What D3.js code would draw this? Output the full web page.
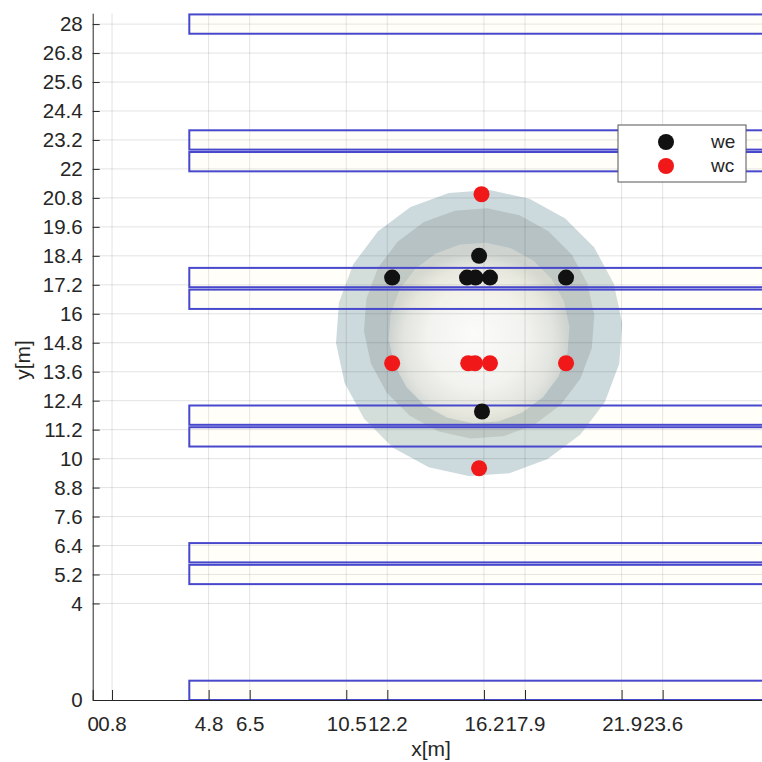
<!DOCTYPE html>
<html><head><meta charset="utf-8">
<script src="https://cdn.jsdelivr.net/npm/d3@7"></script>
<style>
html,body{margin:0;padding:0;background:#fff;}
svg{display:block;font-family:"Liberation Sans",Arial,Helvetica,sans-serif;}
</style>
</head><body>
<svg id="chart" width="762" height="762"></svg>
<script>
// ---- data ----
const xTicks = [0, 0.8, 4.8, 6.5, 10.5, 12.2, 16.2, 17.9, 21.9, 23.6];
const yTicks = [0, 4, 5.2, 6.4, 7.6, 8.8, 10, 11.2, 12.4, 13.6, 14.8, 16, 17.2, 18.4, 19.6, 20.8, 22, 23.2, 24.4, 25.6, 26.8, 28];

const weX = [12.4, 15.5, 15.85, 16.45, 19.6, 16.0, 16.12];
const weY = [17.5, 17.5, 17.5, 17.5, 17.5, 18.4, 11.95];
const wcX = [16.1, 12.4, 15.55, 15.83, 16.45, 19.6, 16.0];
const wcY = [20.95, 13.95, 13.95, 13.95, 13.95, 13.95, 9.6];

const rectX0 = 4;
const rectY0 = [0, 4.8, 5.7, 10.5, 11.4, 16.2, 17.1, 21.9, 22.8, 27.6];
const rectH = 0.8;

const sphereCX = [16.0, 16.0, 16.0];
const sphereCY = [15.2, 15.6, 15.2];
const sphereR  = [5.94, 4.78, 3.75];

const legendLabels = ["we", "wc"];
const legendColors = ["#111111", "#f01818"];

// ---- scales ----
const xMax = 28.2, yMax = 28.45;
const x = d3.scaleLinear().domain([0, xMax]).range([92.7, 92.7 + xMax * 24.15]);
const y = d3.scaleLinear().domain([0, yMax]).range([700, 700 - yMax * 24.14]);

const svg = d3.select("#chart");
const defs = svg.append("defs");
const grad = defs.append("radialGradient").attr("id", "innerGrad")
  .attr("cx", "0.5").attr("cy", "0.55").attr("r", "0.5").attr("fx", "0.47").attr("fy", "0.5");
grad.append("stop").attr("offset", "0%").attr("stop-color", "#fbfbfa");
grad.append("stop").attr("offset", "55%").attr("stop-color", "#f2f2ef");
grad.append("stop").attr("offset", "82%").attr("stop-color", "#e3e5e0");
grad.append("stop").attr("offset", "100%").attr("stop-color", "#ced3cf");

// ---- spheres (faceted discs) ----
const N = 22;
const sphereFills = ["#ccdadd", "#b7c2c4", "url(#innerGrad)"];
sphereR.forEach((r, i) => {
  const pts = d3.range(N).map(k => {
    const a = (k / N) * 2 * Math.PI + 0.07;
    return [x(sphereCX[i] + r * Math.cos(a)), y(sphereCY[i] + r * Math.sin(a))];
  });
  svg.append("path")
    .attr("d", "M" + pts.map(p => p.join(",")).join("L") + "Z")
    .attr("fill", sphereFills[i]);
});

// ---- grid ----
const grid = svg.append("g").attr("stroke", "#262626").attr("stroke-opacity", 0.13).attr("stroke-width", 1);
xTicks.filter(d => d > 0).forEach(d => {
  grid.append("line").attr("x1", x(d)).attr("x2", x(d)).attr("y1", y(0)).attr("y2", y(yMax));
});
yTicks.filter(d => d > 0).forEach(d => {
  grid.append("line").attr("x1", x(0)).attr("x2", x(xMax)).attr("y1", y(d)).attr("y2", y(d));
});

// ---- rectangles ----
svg.append("g").selectAll("rect").data(rectY0).join("rect")
  .attr("x", x(rectX0))
  .attr("y", d => y(d + rectH))
  .attr("width", x(xMax) - x(rectX0))
  .attr("height", d => y(d) - y(d + rectH))
  .attr("fill", "rgba(255,250,205,0.14)")
  .attr("stroke", "#4848cc")
  .attr("stroke-width", 2);

// ---- points ----
svg.append("g").selectAll("circle").data(weX.map((d, i) => [d, weY[i]])).join("circle")
  .attr("cx", d => x(d[0])).attr("cy", d => y(d[1])).attr("r", 8).attr("fill", legendColors[0]);
svg.append("g").selectAll("circle").data(wcX.map((d, i) => [d, wcY[i]])).join("circle")
  .attr("cx", d => x(d[0])).attr("cy", d => y(d[1])).attr("r", 8).attr("fill", legendColors[1]);

// ---- axes ----
const axisColor = "#262626";
const gx = svg.append("g").attr("transform", `translate(0,${y(0)})`)
  .call(d3.axisBottom(x).tickValues(xTicks).tickSizeInner(-10).tickSizeOuter(0).tickPadding(16).tickFormat(d => String(d)));
const gy = svg.append("g").attr("transform", `translate(${x(0)},0)`)
  .call(d3.axisLeft(y).tickValues(yTicks).tickSizeInner(-7).tickSizeOuter(0).tickPadding(10).tickFormat(d => String(d)));
[gx, gy].forEach(g => {
  g.attr("font-size", null).attr("font-family", null);
  g.selectAll("path,line").attr("stroke", axisColor);
  g.selectAll("text").attr("fill", axisColor).attr("font-size", "20.5px").style("font-size", "20.5px");
});

svg.append("text").attr("x", 431).attr("y", 756).attr("text-anchor", "middle")
  .attr("fill", axisColor).style("font-size", "21px").text("x[m]");
svg.append("text").attr("transform", "translate(30,360) rotate(-90)").attr("text-anchor", "middle")
  .attr("fill", axisColor).style("font-size", "21px").text("y[m]");

// ---- legend ----
const lg = svg.append("g");
lg.append("rect").attr("x", 618).attr("y", 125).attr("width", 128).attr("height", 57)
  .attr("fill", "#fff").attr("stroke", "#555").attr("stroke-width", 1);
legendLabels.forEach((lab, i) => {
  lg.append("circle").attr("cx", 666).attr("cy", 142 + i * 24).attr("r", 8).attr("fill", legendColors[i]);
  lg.append("text").attr("x", 711).attr("y", 148 + i * 24).attr("fill", axisColor)
    .style("font-size", "19px").text(lab);
});
</script>
</body></html>
